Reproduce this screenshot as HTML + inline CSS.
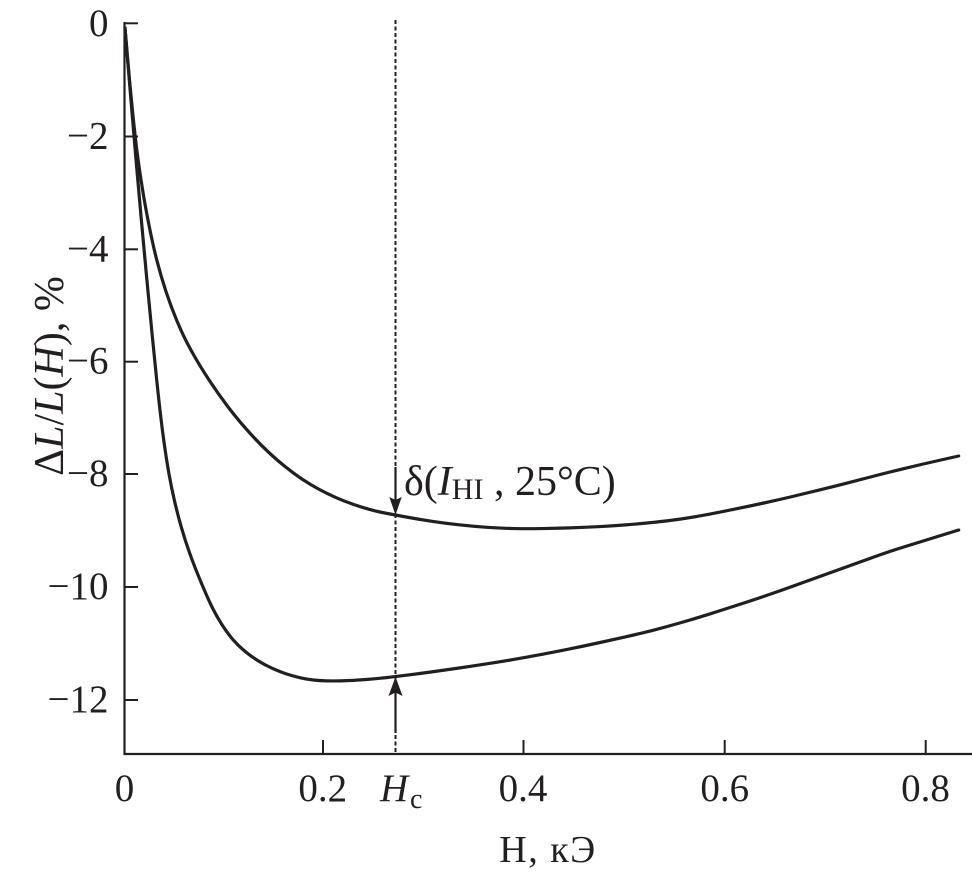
<!DOCTYPE html>
<html>
<head>
<meta charset="utf-8">
<style>
  html, body { margin: 0; padding: 0; background: #ffffff; }
  svg { display: block; }
  text { font-family: "Liberation Serif", "DejaVu Serif", serif; fill: #231f20; }
</style>
</head>
<body>
<svg width="972" height="880" viewBox="0 0 972 880" xmlns="http://www.w3.org/2000/svg">
  <!-- dashed vertical line -->
  <line x1="395.5" y1="20" x2="395.5" y2="754" stroke="#231f20" stroke-width="2" stroke-dasharray="4 2.5"/>

  <!-- axes -->
  <line x1="124.5" y1="22" x2="124.5" y2="755" stroke="#231f20" stroke-width="2.2"/>
  <line x1="123.5" y1="754" x2="972" y2="754" stroke="#231f20" stroke-width="2.2"/>

  <!-- y ticks -->
  <g stroke="#231f20" stroke-width="2">
    <line x1="124.5" y1="23.3" x2="138" y2="23.3"/>
    <line x1="124.5" y1="136.5" x2="138" y2="136.5"/>
    <line x1="124.5" y1="249.3" x2="138" y2="249.3"/>
    <line x1="124.5" y1="361.7" x2="138" y2="361.7"/>
    <line x1="124.5" y1="474" x2="138" y2="474"/>
    <line x1="124.5" y1="587" x2="138" y2="587"/>
    <line x1="124.5" y1="700" x2="138" y2="700"/>
  </g>
  <!-- x ticks -->
  <g stroke="#231f20" stroke-width="2">
    <line x1="323" y1="740" x2="323" y2="754"/>
    <line x1="523.5" y1="740" x2="523.5" y2="754"/>
    <line x1="724.7" y1="740" x2="724.7" y2="754"/>
    <line x1="925.7" y1="740" x2="925.7" y2="754"/>
  </g>

  <!-- y tick labels -->
  <g font-size="39" text-anchor="end">
    <text x="108.5" y="36">0</text>
    <text x="108.5" y="148.5">−2</text>
    <text x="108.5" y="261.3">−4</text>
    <text x="108.5" y="373.7">−6</text>
    <text x="108.5" y="486">−8</text>
    <text x="108.5" y="599">−10</text>
    <text x="108.5" y="712">−12</text>
  </g>

  <!-- x tick labels -->
  <g font-size="39" text-anchor="middle">
    <text x="124.5" y="801">0</text>
    <text x="322.7" y="801">0.2</text>
    <text x="523" y="801">0.4</text>
    <text x="724.7" y="801">0.6</text>
    <text x="925.5" y="801">0.8</text>
  </g>
  <text x="380" y="801" font-size="39" font-style="italic">H</text>
  <text x="410" y="808" font-size="28">c</text>

  <!-- x axis title -->
  <text x="548" y="862" font-size="38" text-anchor="middle" letter-spacing="1.5">H, кЭ</text>

  <!-- y axis title -->
  <text transform="translate(63,376) rotate(-90)" font-size="42" text-anchor="middle">Δ<tspan font-style="italic">L</tspan>/<tspan font-style="italic">L</tspan>(<tspan font-style="italic">H</tspan>), %</text>

  <!-- upper curve -->
  <path fill="none" stroke="#231f20" stroke-width="3.2" stroke-linejoin="round" stroke-linecap="round"
    d="M125,28 L127.3,55 Q129.6,82 132.35,109.35 Q135.1,136.7 137.25,153.35 Q139.4,170 142.35,188.35 Q145.3,206.7 149.3,226.7 Q153.3,246.7 157.2,261.7 Q161.1,276.7 166.05,291.7 Q171,306.7 177.3,321.7 Q183.6,336.7 190.9,350 Q198.2,363.3 207.85,378.15 Q217.5,393 228.5,407.5 Q239.5,422 254.05,437.65 Q268.6,453.3 285.15,466.65 Q301.7,480 318.7,489.15 Q335.7,498.3 352.65,504.15 Q369.6,510 382.3,512.5 Q395,515 407.5,517.25 Q420,519.5 432.7,521.4 Q445.4,523.3 459.2,524.8 Q473,526.3 486.9,527.3 Q500.8,528.3 514.4,528.55 Q528,528.8 542.1,528.55 Q556.2,528.3 570.1,527.85 Q584,527.4 597.8,526.7 Q611.6,526 625.8,524.9 Q640,523.8 653.5,522.4 Q667,521 681,519 Q695,517 708.65,514.35 Q722.3,511.7 736.15,508.85 Q750,506 763.85,503 Q777.7,500 791.35,496.75 Q805,493.5 819.05,490.1 Q833.1,486.7 846.55,483.2 Q860,479.7 874.25,476 Q888.5,472.3 905.75,468.15 Q923,464 940.85,460 L958.7,456"/>

  <!-- lower curve -->
  <path fill="none" stroke="#231f20" stroke-width="3.2" stroke-linejoin="round" stroke-linecap="round"
    d="M125,28 L127.15,54 Q129.3,80 131.65,108.35 Q134,136.7 136.45,164.85 Q138.9,193 141.45,221.15 Q144,249.3 146.65,277.4 Q149.3,305.5 152.05,333.6 Q154.8,361.7 156.8,380.85 Q158.8,400 160.55,415 Q162.3,430 164.4,445 Q166.5,460 169,474 Q171.5,488 174.65,501.5 Q177.8,515 181.4,527.5 Q185,540 189.75,553.35 Q194.5,566.7 201.5,583.35 Q208.5,600 212.75,608.5 Q217,617 222.25,625.15 Q227.5,633.3 233,639.65 Q238.5,646 245,651.35 Q251.5,656.7 258.25,660.85 Q265,665 272.25,668.35 Q279.5,671.7 286.25,673.85 Q293,676 299.85,677.65 Q306.7,679.3 313.35,680 Q320,680.7 326.65,680.85 Q333.3,681 340.15,680.85 Q347,680.7 353.5,680.35 Q360,680 369,679.25 Q378,678.5 386.5,677.6 Q395,676.7 407.5,675.1 Q420,673.5 432.7,671.75 Q445.4,670 459.2,668 Q473,666 486.9,663.85 Q500.8,661.7 514.4,659.35 Q528,657 542.1,654.35 Q556.2,651.7 570.1,648.85 Q584,646 597.8,643 Q611.6,640 625.8,636.8 Q640,633.6 653.5,630.15 Q667,626.7 681,622.65 Q695,618.6 708.65,614.3 Q722.3,610 736.15,605.5 Q750,601 763.85,596.35 Q777.7,591.7 791.35,586.75 Q805,581.8 819.05,576.75 Q833.1,571.7 846.55,566.85 Q860,562 874.25,556.85 Q888.5,551.7 905.75,546.35 Q923,541 940.85,535.5 L958.7,530"/>

  <!-- down arrow -->
  <line x1="395.5" y1="467" x2="395.5" y2="502" stroke="#231f20" stroke-width="2.2"/>
  <polygon points="389.3,497 395.5,500 401.7,497 395.5,515" fill="#231f20"/>

  <!-- up arrow -->
  <line x1="395.5" y1="690" x2="395.5" y2="733" stroke="#231f20" stroke-width="2.2"/>
  <polygon points="395.5,676.7 402.5,696 395.5,692.5 388.5,696" fill="#231f20"/>

  <!-- annotation -->
  <text x="404" y="495" font-size="42">δ(<tspan font-style="italic">I</tspan><tspan font-size="30" dy="4">HI</tspan><tspan dy="-4"> , 25°C)</tspan></text>
</svg>
</body>
</html>
